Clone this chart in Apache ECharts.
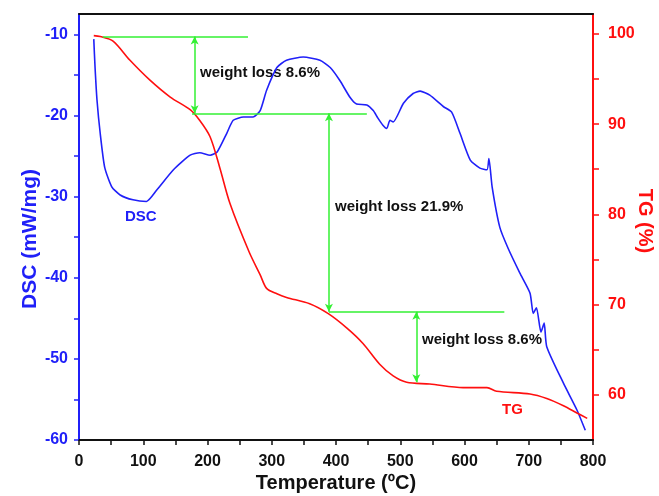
<!DOCTYPE html>
<html>
<head>
<meta charset="utf-8">
<script src="https://cdn.jsdelivr.net/npm/echarts@6/dist/echarts.min.js"></script>
<style>
  html, body { margin: 0; padding: 0; background: #fff; }
  #chart { width: 659px; height: 496px; }
</style>
</head>
<body>
<div id="chart"></div>
<script>
// DSC curve (left axis)
var dscT = [23,25,28,33,40,51,64,84,105,121,147,173,188,204,215,230,240,256,271,282,292,308,323,349,375,391,406,422,432,448,458,465,473,479,484,489,505,520,531,546,567,580,593,609,624,635,638,643,655,668,686,702,707,712,719,724,728,754,775,788];
var dscV = [-10.6,-14.1,-18.1,-22.2,-26.4,-28.8,-29.8,-30.4,-30.6,-29.2,-26.7,-24.9,-24.6,-24.9,-24.5,-22.2,-20.6,-20.2,-20.2,-19.4,-16.9,-14.1,-13.2,-12.8,-13.2,-14.1,-15.7,-17.8,-18.6,-18.7,-19.4,-20.3,-21.2,-21.6,-20.6,-20.8,-18.5,-17.3,-17.0,-17.5,-18.9,-19.6,-22.2,-25.5,-26.5,-26.7,-25.3,-28.8,-33.8,-36.4,-39.4,-41.9,-44.4,-43.7,-46.7,-45.6,-48.5,-53.0,-56.3,-58.8];

// TG curve (right axis)
var tgT = [23,33,53,79,110,142,173,188,204,219,235,265,282,292,308,323,359,388,417,442,468,489,510,546,598,635,650,702,728,754,775,791];
var tgV = [99.8,99.7,99.2,97.1,94.9,93.0,91.6,90.4,88.6,85.2,81.2,75.8,73.3,71.8,71.2,70.8,70.1,69.0,67.4,65.7,63.4,62.1,61.4,61.2,60.8,60.8,60.4,60.1,59.6,58.8,58.0,57.4];

// weight loss steps: [x start, x end, TG level]
var levels = [[37, 263, 99.7], [176, 448, 91.2], [389, 662, 69.2]];
// arrows: [x, TG from, TG to]
var arrows = [[180, 99.7, 91.2], [389, 91.2, 69.2], [525, 69.2, 61.4]];

var dscTicks = [-60, -50, -40, -30, -20, -10];
var dscAllTicks = [-60, -55, -50, -45, -40, -35, -30, -25, -20, -15, -10];
var tgTicks = [60, 70, 80, 90, 100];
var tgAllTicks = [60, 65, 70, 75, 80, 85, 90, 95, 100];

var BLUE = '#2020f8', RED = '#ff0f0f', GREEN = '#33f033';
var FONT = 'Liberation Sans';

function pairs(a, b) {
  return a.map(function (v, i) { return [v, b[i]]; });
}

var markData = [];
levels.forEach(function (l) {
  markData.push([{coord: [l[0], l[2]], symbol: 'none'}, {coord: [l[1], l[2]], symbol: 'none'}]);
});
arrows.forEach(function (a) {
  markData.push([{coord: [a[0], a[1]], symbol: 'arrow'}, {coord: [a[0], a[2]], symbol: 'arrow'}]);
});

var chart = echarts.init(document.getElementById('chart'));
chart.setOption({
  animation: false,
  grid: {left: 79, right: 66, top: 14, bottom: 56, containLabel: false, outerBoundsMode: 'none'},
  xAxis: [{
    type: 'value', min: 0, max: 800, interval: 100,
    name: 'Temperature (\u00baC)', nameLocation: 'middle', nameGap: 33, nameMoveOverlap: false,
    nameTextStyle: {color: '#111', fontFamily: FONT, fontWeight: 'bold', fontSize: 20},
    axisLine: {onZero: false, lineStyle: {color: '#111', width: 2}},
    axisTick: {length: 5, lineStyle: {color: '#111', width: 1.5}},
    minorTick: {show: true, splitNumber: 2, length: 5, lineStyle: {color: '#111', width: 1.5}},
    axisLabel: {color: '#111', fontFamily: FONT, fontWeight: 'bold', fontSize: 16, margin: 14},
    splitLine: {show: false}
  }, {
    type: 'value', position: 'top', min: 0, max: 800,
    axisLine: {onZero: false, lineStyle: {color: '#111', width: 2}},
    axisTick: {show: false}, axisLabel: {show: false}, splitLine: {show: false}
  }],
  yAxis: [{
    type: 'value', position: 'left', min: -60, max: -7.5,
    name: 'DSC (mW/mg)', nameLocation: 'middle', nameGap: 38, nameMoveOverlap: false,
    nameTextStyle: {color: BLUE, fontFamily: FONT, fontWeight: 'bold', fontSize: 21, padding: [0, 24, 0, 0]},
    axisLine: {show: true, onZero: false, lineStyle: {color: BLUE, width: 2}},
    axisTick: {show: true, length: 5, customValues: dscAllTicks, lineStyle: {color: BLUE, width: 1.5}},
    axisLabel: {customValues: dscTicks, color: BLUE, fontFamily: FONT, fontWeight: 'bold', fontSize: 16, margin: 11},
    splitLine: {show: false}
  }, {
    type: 'value', position: 'right', min: 55, max: 102.2,
    name: 'TG (%)', nameLocation: 'middle', nameGap: 42, nameRotate: -90, nameMoveOverlap: false,
    nameTextStyle: {color: RED, fontFamily: FONT, fontWeight: 'bold', fontSize: 20, padding: [0, 12, 0, 0]},
    axisLine: {show: true, onZero: false, lineStyle: {color: RED, width: 2}},
    axisTick: {show: true, length: 6, customValues: tgAllTicks, lineStyle: {color: RED, width: 1.5}},
    axisLabel: {customValues: tgTicks, color: RED, fontFamily: FONT, fontWeight: 'bold', fontSize: 16, margin: 15},
    splitLine: {show: false}
  }],
  series: [{
    name: 'DSC', type: 'line', yAxisIndex: 0,
    data: pairs(dscT, dscV), showSymbol: false, smooth: 0.2,
    lineStyle: {color: BLUE, width: 1.6}
  }, {
    name: 'TG', type: 'line', yAxisIndex: 1,
    data: pairs(tgT, tgV), showSymbol: false, smooth: 0.3,
    lineStyle: {color: RED, width: 1.6},
    markLine: {
      silent: true, symbolSize: [6, 8],
      label: {show: false},
      lineStyle: {color: GREEN, width: 1.5, type: 'solid'},
      data: markData
    }
  }],
  graphic: [
    {type: 'text', left: 200, top: 65, style: {text: 'weight loss 8.6%', fill: '#111', font: 'bold 15px "Liberation Sans"'}},
    {type: 'text', left: 335, top: 199, style: {text: 'weight loss 21.9%', fill: '#111', font: 'bold 15px "Liberation Sans"'}},
    {type: 'text', left: 422, top: 332, style: {text: 'weight loss 8.6%', fill: '#111', font: 'bold 15px "Liberation Sans"'}},
    {type: 'text', left: 125, top: 209, style: {text: 'DSC', fill: BLUE, font: 'bold 15px "Liberation Sans"'}},
    {type: 'text', left: 502, top: 402, style: {text: 'TG', fill: RED, font: 'bold 15px "Liberation Sans"'}}
  ]
});
</script>
</body>
</html>
